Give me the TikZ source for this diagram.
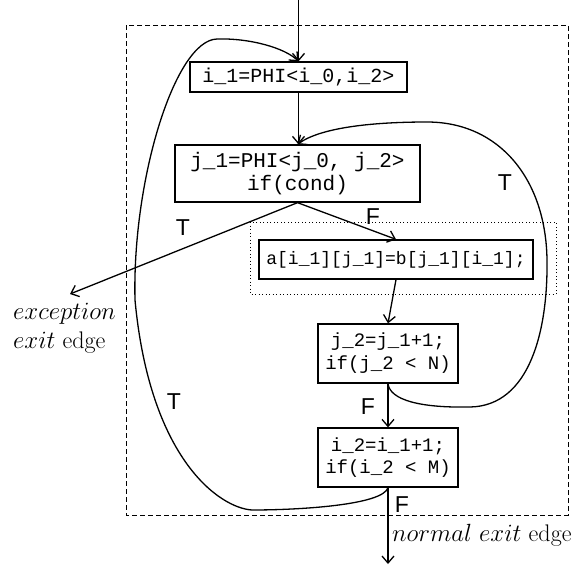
\documentclass[tikz,border=0pt]{standalone}
\usepackage{fontspec}
\newfontfamily\codefont{Liberation Mono}
\newfontfamily\labfont{Liberation Sans}
\usetikzlibrary{arrows.meta}
\begin{document}
\begin{tikzpicture}[x=1pt,y=-1pt,
  box/.style={draw, line width=1.3pt, inner sep=0pt, align=center, font=\codefont\fontsize{20}{23}\selectfont},
  conn/.style={line width=1.3pt, -{Straight Barb[length=7pt,width=12pt]}},
  lbl/.style={font=\labfont\fontsize{23}{26}\selectfont, inner sep=0pt},
  note/.style={font=\fontsize{24}{29}\selectfont, inner sep=0pt, align=left},
  region/.style={line width=1pt, dash pattern=on 5pt off 3pt},
  innerregion/.style={line width=1pt, dash pattern=on 1pt off 2.5pt}]
\useasboundingbox (0,0) rectangle (574,568);
\draw[region] (126,25) rectangle (568,515);
\draw[innerregion] (250,222) rectangle (556,294);
% boxes
\node[box, minimum width=217pt, minimum height=30pt] (b1) at (298.5,77) {i\_1=PHI<i\_0,i\_2>};
\node[box, minimum width=245pt, minimum height=57pt, font=\codefont\fontsize{21}{23}\selectfont] (b2) at (297.5,173.5) {j\_1=PHI<j\_0, j\_2>\\if(cond)};
\node[box, minimum width=274pt, minimum height=39pt, font=\codefont\fontsize{18}{22}\selectfont] (b3) at (396,259.5) {a[i\_1][j\_1]=b[j\_1][i\_1];};
\node[box, minimum width=140pt, minimum height=59pt, font=\codefont\fontsize{19}{23}\selectfont] (b4) at (388,353.5) {j\_2=j\_1+1;\\if(j\_2 < N)};
\node[box, minimum width=140pt, minimum height=59pt, font=\codefont\fontsize{19}{22}\selectfont] (b5) at (388,457.5) {i\_2=i\_1+1;\\if(i\_2 < M)};
% free ends and notes
\coordinate (entry) at (298.5,0);
\coordinate (excend) at (70,294);
\coordinate (exitend) at (388,564);
\node[note, anchor=west] (exc) at (13,328) {$exception$\\$exit$ edge};
\node[note, anchor=west] (nexit) at (392,535) {$normal~exit$ edge};
% labels
\node[lbl] (tExc) at (183,228) {T};
\node[lbl] (fB3) at (373,217) {F};
\node[lbl] (tJ) at (505,183) {T};
\node[lbl] (fB5) at (368,407) {F};
\node[lbl] (tI) at (174,402) {T};
\node[lbl] (fExit) at (402,505) {F};
% connectors
\draw[conn] (entry) -- (b1.north);
\draw[conn] (b1.south) -- (b1.south |- b2.north);
\draw[conn] (b2.south) -- (excend);
\draw[conn] (b2.south) -- (b3.north);
\draw[conn] (b3.south) -- (b4.north);
\draw[conn] (b4.south) -- (b5.north);
\draw[conn] (b5.south) -- (exitend);
\draw[conn] (b4.south) .. controls (390,400) and (420,408) .. (470,407)
   .. controls (530,406) and (548,330) .. (547,260)
   .. controls (546,180) and (500,122) .. (427,122)
   .. controls (370,122) and (320,128) .. (b2.north);
\draw[conn] (b5.south) .. controls (383,505) and (300,510) .. (252,510)
   .. controls (220,508) and (150,460) .. (135,300)
   .. controls (132,180) and (175,40) .. (217,39)
   .. controls (250,38) and (285,48) .. (b1.north);
\end{tikzpicture}
\end{document}
